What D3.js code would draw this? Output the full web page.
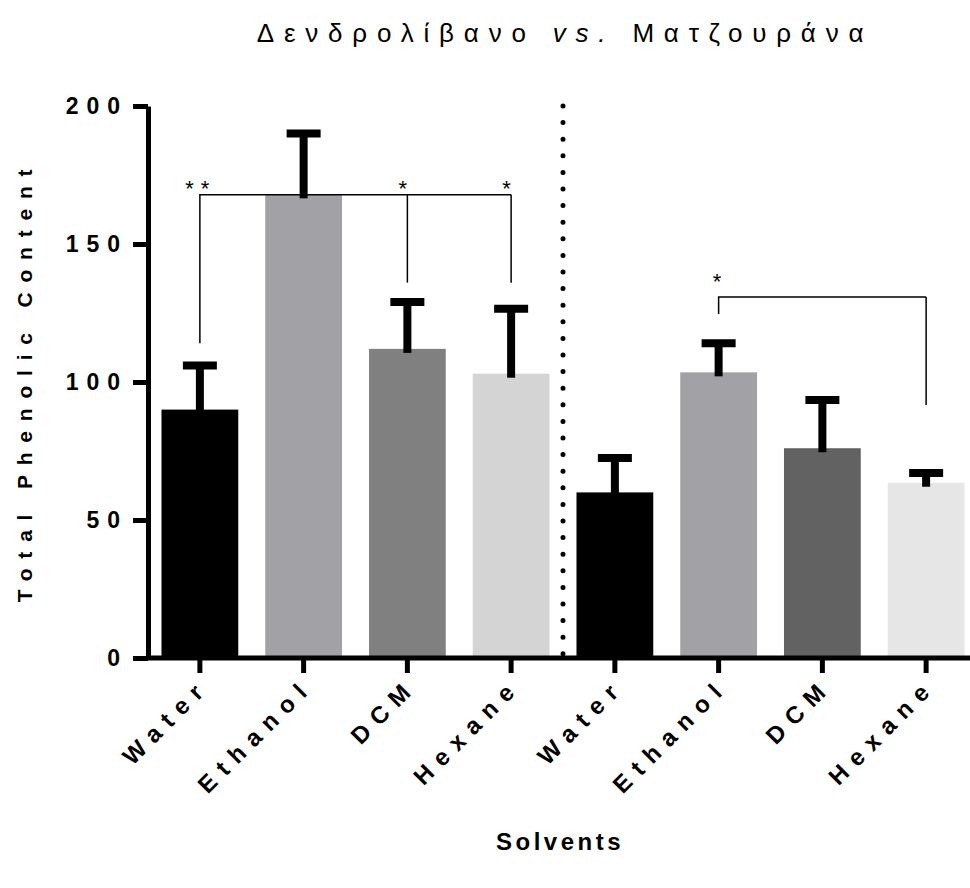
<!DOCTYPE html>
<html>
<head>
<meta charset="utf-8">
<script src="https://cdn.jsdelivr.net/npm/d3@7"></script>
<style>
  html, body { margin: 0; padding: 0; background: #fff; }
  svg { display: block; font-family: "Liberation Sans", Arial, sans-serif; }
</style>
</head>
<body>
<svg id="chart" width="970" height="888"></svg>
<script>
// ---- data ----
const categories = ["Water", "Ethanol", "DCM", "Hexane", "Water", "Ethanol", "DCM", "Hexane"];
const means = [90, 168, 112, 103, 60, 103.5, 76, 63.5];
const errors = [16, 22, 17, 23.5, 12.5, 10.5, 17.5, 3.5];
const barColors = ["#000000", "#a2a1a6", "#808080", "#d4d4d4", "#000000", "#a2a1a6", "#626262", "#e6e6e6"];
const yTicks = [0, 50, 100, 150, 200];
// significance brackets: from index, to indices, bar level, drop-end values, labels
const bracket1 = { level: 167.8, from: 0, fromEnd: 114, targets: [2, 3], targetEnds: [136, 136], labels: ["**", "*", "*"] };
const bracket2 = { level: 130.8, from: 5, fromEnd: 124.6, targets: [7], targetEnds: [91.7], labels: ["*"] };
const titleParts = ["Δενδρολίβανο ", "vs.", " Ματζουράνα"];
const xTitle = "Solvents";
const yTitle = "Total Phenolic Content";

// ---- layout ----
const svg = d3.select("#chart");
const x = d3.scaleBand().domain(d3.range(categories.length)).range([148, 978]).paddingInner(0.26).paddingOuter(0.13);
const y = d3.scaleLinear().domain([0, 200]).range([658, 106]);
const cxi = i => x(i) + x.bandwidth() / 2;

// title
const title = svg.append("text").attr("x", 565).attr("y", 42).attr("text-anchor", "middle")
  .attr("font-size", 26).attr("letter-spacing", 9.8).attr("fill", "#000");
titleParts.forEach((t, i) => {
  title.append("tspan").text(t).attr("font-style", i === 1 ? "italic" : "normal");
});

// bars
svg.append("g").selectAll("rect").data(means).join("rect")
  .attr("x", (d, i) => x(i)).attr("width", x.bandwidth())
  .attr("y", d => y(d)).attr("height", d => y(0) - y(d))
  .attr("fill", (d, i) => barColors[i]);

// error bars
const eb = svg.append("g").attr("stroke", "#000").attr("fill", "none");
means.forEach((m, i) => {
  const cx = cxi(i);
  eb.append("line").attr("x1", cx).attr("x2", cx).attr("y1", y(m) + 4).attr("y2", y(m + errors[i])).attr("stroke-width", 8);
  eb.append("line").attr("x1", cx - 17).attr("x2", cx + 17).attr("y1", y(m + errors[i])).attr("y2", y(m + errors[i])).attr("stroke-width", 8);
});

// separator dotted line
const sepX = (x(3) + x(4) + x.bandwidth()) / 2;
svg.append("line").attr("x1", sepX).attr("x2", sepX).attr("y1", y(200)).attr("y2", y(0))
  .attr("stroke", "#000").attr("stroke-width", 5).attr("stroke-linecap", "round")
  .attr("stroke-dasharray", "0 16.6");

// brackets
function drawBracket(b) {
  const g = svg.append("g").attr("stroke", "#000").attr("stroke-width", 1.5).attr("fill", "none");
  const last = b.targets[b.targets.length - 1];
  g.append("path").attr("d", `M${cxi(b.from)},${y(b.fromEnd)}V${y(b.level)}H${cxi(last)}`);
  b.targets.forEach((t, k) => {
    g.append("line").attr("x1", cxi(t)).attr("x2", cxi(t)).attr("y1", y(b.level)).attr("y2", y(b.targetEnds[k]));
  });
}
drawBracket(bracket1);
drawBracket(bracket2);

function star(xp, yp, label) {
  svg.append("text").attr("x", xp).attr("y", yp).attr("text-anchor", "middle")
    .attr("font-size", 22).attr("letter-spacing", 7).attr("fill", "#000").text(label);
}
star(cxi(0) + 1, y(bracket1.level) + 1, bracket1.labels[0]);
star(cxi(2) - 1, y(bracket1.level) + 1, bracket1.labels[1]);
star(cxi(3) - 1, y(bracket1.level) + 1, bracket1.labels[2]);
star(cxi(5) + 2, y(bracket2.level) - 8, bracket2.labels[0]);

// y axis
const yAxis = svg.append("g").attr("transform", "translate(148,0)")
  .call(d3.axisLeft(y).tickValues(yTicks).tickSize(15).tickSizeOuter(0).tickPadding(5));
yAxis.select(".domain").attr("stroke-width", 5).attr("stroke", "#000");
yAxis.selectAll(".tick line").attr("stroke-width", 5).attr("stroke", "#000");
yAxis.selectAll(".tick text").attr("font-size", 23).attr("font-weight", "bold")
  .attr("letter-spacing", 8).attr("font-family", "Liberation Sans, Arial, sans-serif").attr("fill", "#000");

// x axis
const xAxis = svg.append("g").attr("transform", `translate(0,${y(0)})`)
  .call(d3.axisBottom(x).tickFormat(i => categories[i]).tickSize(15).tickSizeOuter(0));
xAxis.select(".domain").attr("d", `M146,0H970`).attr("stroke-width", 5).attr("stroke", "#000");
xAxis.selectAll(".tick line").attr("stroke-width", 5).attr("stroke", "#000");
xAxis.selectAll(".tick text")
  .attr("font-size", 24).attr("font-weight", "bold").attr("letter-spacing", 9)
  .attr("font-family", "Liberation Sans, Arial, sans-serif").attr("fill", "#000")
  .attr("text-anchor", "end").attr("dy", 0).attr("y", 0)
  .attr("transform", "translate(11,30) rotate(-45)");

// axis titles
svg.append("text").attr("x", 560).attr("y", 850).attr("text-anchor", "middle")
  .attr("font-size", 24).attr("font-weight", "bold").attr("letter-spacing", 3.5).text(xTitle);
svg.append("text").attr("transform", "translate(32,381) rotate(-90)").attr("text-anchor", "middle")
  .attr("font-size", 21).attr("font-weight", "bold").attr("letter-spacing", 9.8).text(yTitle);
</script>
</body>
</html>
